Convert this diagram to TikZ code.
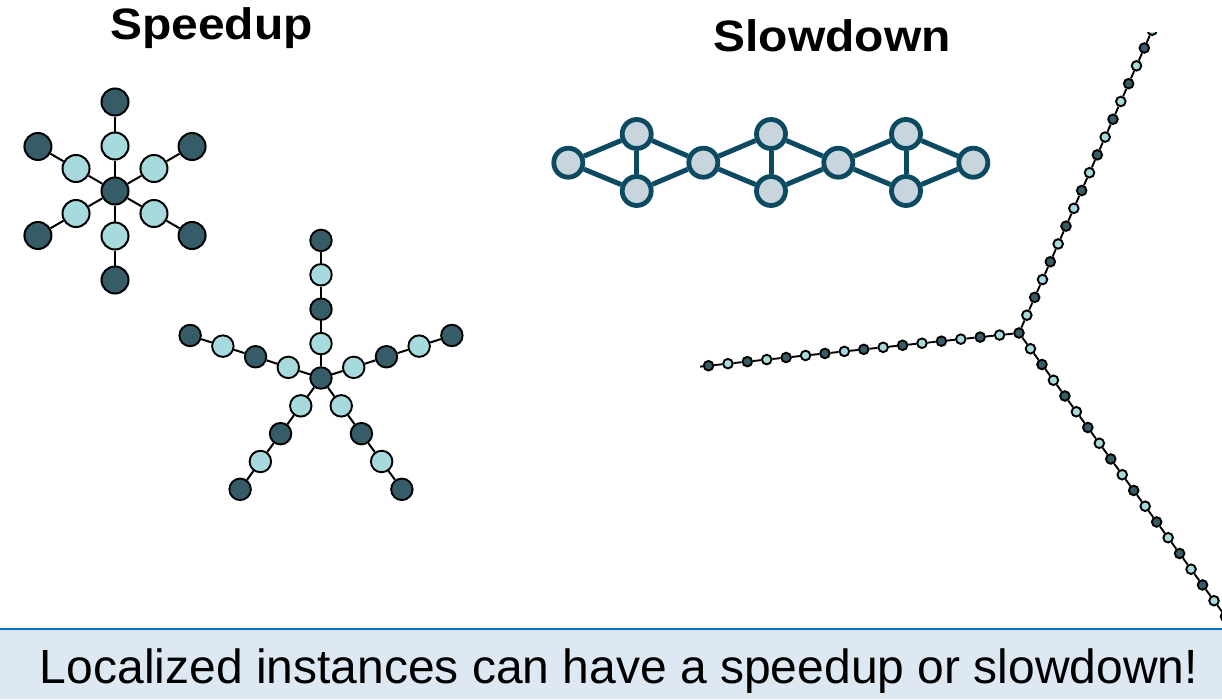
\documentclass[tikz,border=0pt]{standalone}
\usepackage{fontspec}
\setmainfont{Liberation Sans}
\usetikzlibrary{calc}
\definecolor{ndk}{RGB}{54,93,103}
\definecolor{nlt}{RGB}{167,218,220}
\definecolor{chfill}{RGB}{200,213,221}
\definecolor{chline}{RGB}{12,74,97}
\definecolor{banfill}{RGB}{222,232,243}
\definecolor{banline}{RGB}{0,112,192}
\begin{document}
\begin{tikzpicture}[x=1pt,y=-1pt,
  edge/.style={draw=black,line width=2pt},
  tedge/.style={draw=black,line width=1.9pt},
  bignode/.style={circle,draw=black,line width=2pt,minimum size=27pt,inner sep=0pt},
  midnode/.style={circle,draw=black,line width=1.9pt,minimum size=21.5pt,inner sep=0pt},
  smnode/.style={circle,draw=black,line width=1.9pt,minimum size=9.6pt,inner sep=0pt},
  chnode/.style={circle,draw=chline,fill=chfill,line width=4.8pt,minimum size=29pt,inner sep=0pt},
  chedge/.style={draw=chline,line width=5pt},
  heading/.style={font=\fontsize{44}{50}\selectfont\bfseries,anchor=base,inner sep=0pt},
  bantext/.style={font=\fontsize{48}{56}\selectfont,anchor=base,inner sep=0pt}]
\useasboundingbox (0,0) rectangle (1222,699);

% headings
\node[heading] (hspeed) at (211.5,39) {\scalebox{1.09}[1]{Speedup}};
\node[heading] (hslow) at (832,51.5) {\scalebox{1.09}[1]{Slowdown}};

% star 1
\node[bignode,fill=ndk] (A0) at (115,191) {};
\foreach \a in {30,90,...,330} {
  \node[bignode,fill=nlt] (Ai\a) at ($(A0)+(\a:45)$) {};
  \node[bignode,fill=ndk] (Ao\a) at ($(A0)+(\a:89)$) {};
  \draw[edge] (A0) -- (Ai\a) -- (Ao\a);
}

% star 2
\node[midnode,fill=ndk] (B0) at (321,378) {};
\foreach \a in {90,162,234,306,18} {
  \foreach \k in {1,2,3,4} {
    \ifodd\k\def\col{nlt}\else\def\col{ndk}\fi
    \node[midnode,fill=\col] (B\a k\k) at ($(B0)+(-\a:{34.4*\k})$) {};
  }
  \draw[edge] (B0) -- (B\a k1) -- (B\a k2) -- (B\a k3) -- (B\a k4);
}

% chain graph
\node[chnode] (c1) at (568.3,162.7) {};
\node[chnode] (c2) at (636.7,134) {};
\node[chnode] (c3) at (636.7,191) {};
\node[chnode] (c4) at (703.3,162.7) {};
\node[chnode] (c5) at (771,134) {};
\node[chnode] (c6) at (771,191) {};
\node[chnode] (c7) at (838.3,162.7) {};
\node[chnode] (c8) at (906,134) {};
\node[chnode] (c9) at (906,191) {};
\node[chnode] (c10) at (973.3,162.7) {};
\foreach \u/\v in {c1/c2,c1/c3,c2/c3,c2/c4,c3/c4,c4/c5,c4/c6,c5/c6,c5/c7,c6/c7,c7/c8,c7/c9,c8/c9,c8/c10,c9/c10}
  \draw[chedge] (\u) -- (\v);

% three-arm tree
\begin{scope}
\clip (700,32) rectangle (1222,627);
\node[smnode,fill=ndk] (J) at (1019,333) {};
\coordinate (Lend) at (708.5,365.7);
\coordinate (Uend) at (1144.3,48);
\coordinate (Dend) at (1214,600.7);
\foreach \i in {1,...,17} {
  \ifodd\i\def\col{nlt}\else\def\col{ndk}\fi
  \node[smnode,fill=\col] (L\i) at ($(J)!\i/16!(Lend)$) {};
  \node[smnode,fill=\col] (U\i) at ($(J)!\i/16!(Uend)$) {};
}
\foreach \i in {1,...,18} {
  \ifodd\i\def\col{nlt}\else\def\col{ndk}\fi
  \node[smnode,fill=\col] (D\i) at ($(J)!\i/17!(Dend)$) {};
}
\draw[tedge] (J) -- (L1);
\draw[tedge] (J) -- (U1);
\draw[tedge] (J) -- (D1);
\foreach \i in {2,...,17} {
  \pgfmathtruncatemacro\p{\i-1}
  \draw[tedge] (L\p) -- (L\i);
  \draw[tedge] (U\p) -- (U\i);
}
\foreach \i in {2,...,18} {
  \pgfmathtruncatemacro\p{\i-1}
  \draw[tedge] (D\p) -- (D\i);
}
\end{scope}

% banner
\fill[banfill] (0,629) rectangle (1222,699);
\draw[banline,line width=2pt] (0,629) -- (1222,629);
\node[bantext] (msg) at (619,683) {Localized instances can have a speedup or slowdown!};
\end{tikzpicture}
\end{document}
